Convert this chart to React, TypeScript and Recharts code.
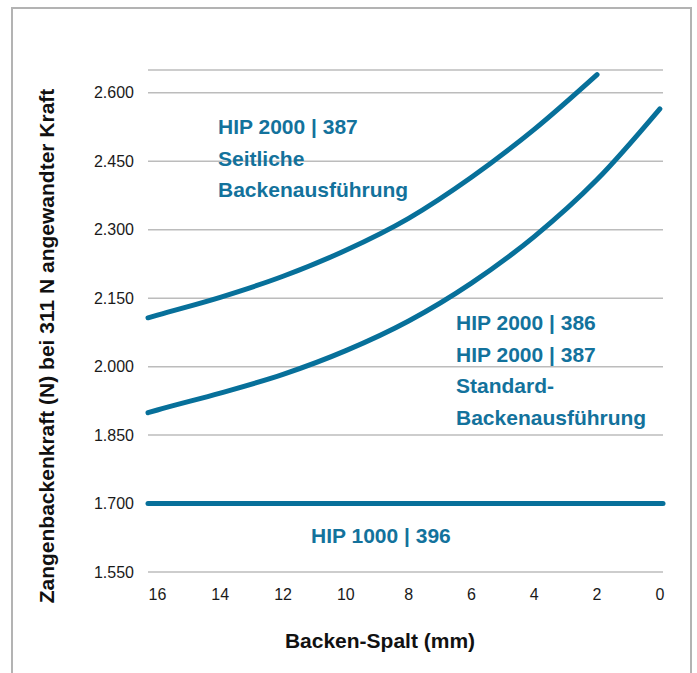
import React from "react"
import { LineChart, Line, XAxis, YAxis, CartesianGrid } from "recharts"

// Backen-Spalt in mm (x axis runs from 16 down to 0)
const gapMm = [16.3, 16, 14, 12, 10, 8, 6, 4, 2, 0, -0.1]
// HIP 2000 | 387 seitliche Backenausführung
const seitlich = [2107, 2113, 2152, 2198, 2255, 2325, 2415, 2520, 2640, null, null]
// HIP 2000 | 386 / 387 Standard-Backenausführung
const standard = [1899, 1905, 1942, 1983, 2035, 2100, 2183, 2285, 2410, 2565, null]
// HIP 1000 | 396
const hip1000 = [1700, 1700, 1700, 1700, 1700, 1700, 1700, 1700, 1700, 1700, 1700]

const xTicks = [16, 14, 12, 10, 8, 6, 4, 2, 0]
const yTicks = [1550, 1700, 1850, 2000, 2150, 2300, 2450, 2600]

const data = gapMm.map((gap, i) => ({
  gap,
  seitlich: seitlich[i],
  standard: standard[i],
  hip1000: hip1000[i],
}))

const BLUE = "#07709a"
const TEXT_BLUE = "#13729c"
const FONT = "'Liberation Sans', Arial, Helvetica, sans-serif"

const fmt = (v: number) => `${Math.floor(v / 1000)}.${String(v % 1000).padStart(3, "0")}`

const App = () => {
  return (
    <div style={{ position: "absolute", left: 0, top: 0, width: 697, height: 673, background: "#fff", fontFamily: FONT }}>
      <div
        style={{
          position: "absolute",
          left: 11,
          top: 7,
          width: 681,
          height: 666,
          boxSizing: "border-box",
          borderTop: "2px solid #b3b3b3",
          borderLeft: "2px solid #b3b3b3",
          borderRight: "2px solid #b3b3b3",
        }}
      />
      <div style={{ position: "absolute", left: 0, top: 0 }}>
        <LineChart width={697} height={673} data={data} margin={{ top: 70, right: 34, bottom: 0, left: 0 }}>
          <CartesianGrid vertical={false} stroke="#bcbcbc" strokeWidth={1.5} />
          <XAxis
            dataKey="gap"
            type="number"
            domain={[-0.1, 16.3]}
            reversed
            ticks={xTicks}
            axisLine={false}
            tickLine={false}
            tickSize={6}
            tickMargin={11}
            height={101}
            tick={{ fontSize: 16, fill: "#1a1a1a", fontFamily: FONT }}
          />
          <YAxis
            type="number"
            domain={[1550, 2650]}
            ticks={yTicks}
            tickFormatter={fmt}
            axisLine={false}
            tickLine={false}
            tickSize={6}
            tickMargin={8}
            width={148}
            tick={{ fontSize: 16, fill: "#1a1a1a", fontFamily: FONT }}
          />
          <Line dataKey="seitlich" type="monotone" stroke={BLUE} strokeWidth={5} strokeLinecap="round" dot={false} isAnimationActive={false} />
          <Line dataKey="standard" type="monotone" stroke={BLUE} strokeWidth={5} strokeLinecap="round" dot={false} isAnimationActive={false} />
          <Line dataKey="hip1000" type="linear" stroke={BLUE} strokeWidth={5} strokeLinecap="round" dot={false} isAnimationActive={false} />
        </LineChart>
      </div>
      <svg width={697} height={673} style={{ position: "absolute", left: 0, top: 0, pointerEvents: "none" }}>
        <g fontFamily={FONT} fontWeight="bold" fontSize={21} fill={TEXT_BLUE}>
          <text x={218} y={134}>HIP 2000 | 387</text>
          <text x={218} y={166}>Seitliche</text>
          <text x={218} y={197}>Backenausführung</text>
          <text x={456} y={330}>HIP 2000 | 386</text>
          <text x={456} y={362}>HIP 2000 | 387</text>
          <text x={456} y={393}>Standard-</text>
          <text x={456} y={425}>Backenausführung</text>
          <text x={311} y={543}>HIP 1000 | 396</text>
        </g>
        <g fontFamily={FONT} fontWeight="bold" fontSize={21} fill="#111">
          <text x={380} y={648} textAnchor="middle">Backen-Spalt (mm)</text>
          <text transform="translate(54,346) rotate(-90)" textAnchor="middle">Zangenbackenkraft (N) bei 311 N angewandter Kraft</text>
        </g>
      </svg>
    </div>
  )
}

export default App
